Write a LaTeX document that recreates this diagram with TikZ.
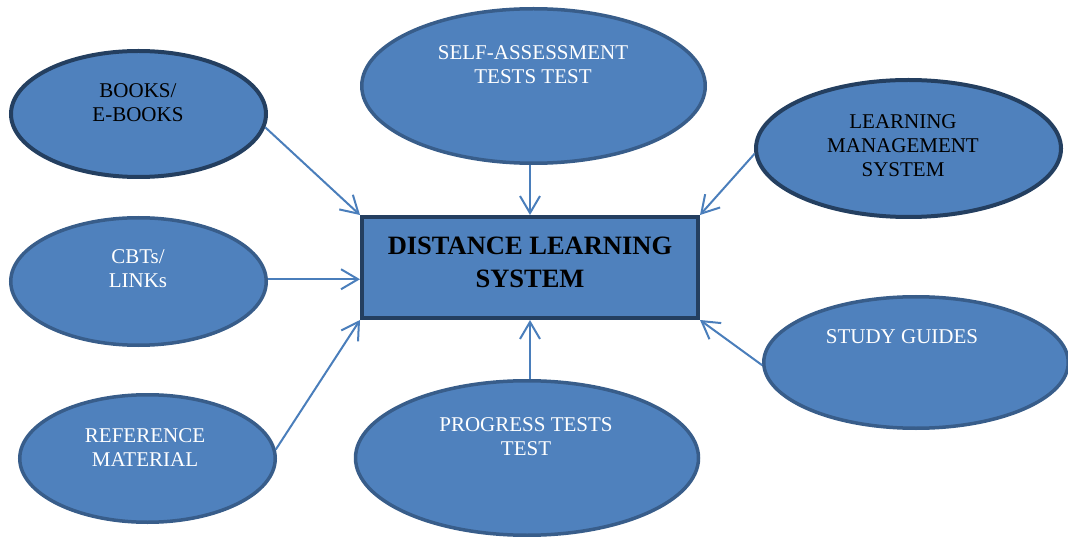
\documentclass[tikz,border=0pt]{standalone}
\usepackage{fontspec}
\setmainfont{Liberation Serif}
\usetikzlibrary{arrows.meta,shapes.geometric}
\definecolor{fillblue}{HTML}{4F81BD}
\definecolor{darkedge}{HTML}{243F60}
\definecolor{midedge}{HTML}{385D8A}
\definecolor{arrowblue}{HTML}{4A7EBB}
\begin{document}
\begin{tikzpicture}[x=1pt,y=-1pt,
  bubble/.style={ellipse, fill=fillblue, draw=midedge, line width=3.5pt, inner sep=0pt},
  darkbubble/.style={bubble, draw=darkedge, line width=4pt},
  centerbox/.style={rectangle, fill=fillblue, draw=darkedge, line width=4pt, inner sep=0pt},
  lbl/.style={align=center, font=\fontsize{21}{24}\selectfont, inner sep=0pt},
  boldlbl/.style={align=center, font=\fontsize{26.5}{33}\selectfont\bfseries, inner sep=0pt},
  conn/.style={draw=arrowblue, line width=2pt, -{Straight Barb[length=17pt,width=20pt]}}
]
\useasboundingbox (0,0) rectangle (1068,537);

\node[darkbubble, minimum width=255pt, minimum height=126pt] (books) at (138.5,114) {};
\node[bubble, minimum width=255.5pt, minimum height=127.5pt] (cbt) at (138.5,281.5) {};
\node[bubble, minimum width=255.5pt, minimum height=127.5pt] (ref) at (147.5,458.5) {};
\node[bubble, minimum width=343.5pt, minimum height=154.5pt] (self) at (533.5,86) {};
\node[bubble, minimum width=343pt, minimum height=154.5pt] (prog) at (527,458) {};
\node[darkbubble, minimum width=305pt, minimum height=137pt] (lms) at (908.5,148.5) {};
\node[bubble, minimum width=304.5pt, minimum height=131.5pt] (study) at (916,362.5) {};
\node[centerbox, minimum width=336pt, minimum height=101pt] (dls) at (530,267.5) {};

\node[lbl, text=black] (booksT) at (138,103) {BOOKS/\\E-BOOKS};
\node[lbl, text=white] (cbtT) at (138,269) {CBTs/\\LINKs};
\node[lbl, text=white] (refT) at (145,447.5) {REFERENCE\\MATERIAL};
\node[lbl, text=white] (selfT) at (533,65) {SELF-ASSESSMENT\\TESTS TEST};
\node[lbl, text=white] (progT) at (526,437) {PROGRESS TESTS\\TEST};
\node[lbl, text=black] (lmsT) at (903,146) {LEARNING\\MANAGEMENT\\SYSTEM};
\node[lbl, text=white] (studyT) at (902,337) {STUDY GUIDES};
\node[boldlbl, text=black] (dlsT) at (530,262.5) {DISTANCE LEARNING\\SYSTEM};

\draw[conn] (books.-6) -- (dls.north west);
\draw[conn] (cbt.1.5) -- (cbt.1.5 -| dls.west);
\draw[conn] (ref.4) -- (dls.south west);
\draw[conn] (dls.north |- self.south) -- (dls.north);
\draw[conn] (dls.south |- prog.north) -- (dls.south);
\draw[conn] (lms.182) -- (dls.north east);
\draw[conn] (study.181) -- (dls.south east);
\end{tikzpicture}
\end{document}
